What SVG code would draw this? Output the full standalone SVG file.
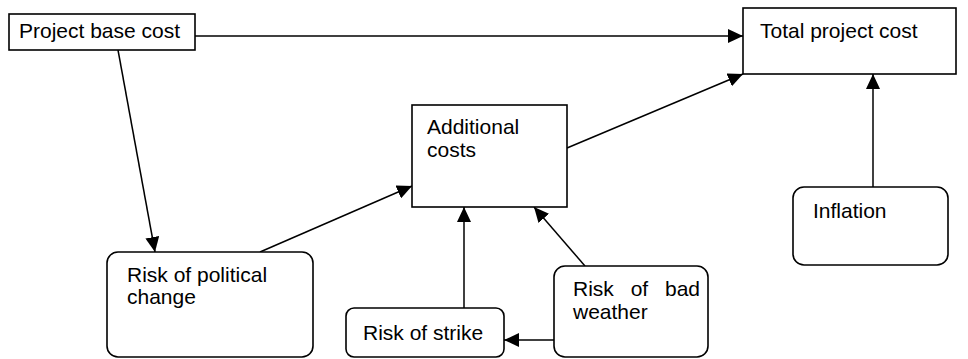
<svg xmlns="http://www.w3.org/2000/svg" width="968" height="359" viewBox="0 0 968 359">
<style>
.box{fill:#fff;stroke:#000;stroke-width:1.6}
.lbl{font-family:"Liberation Sans",Arial,sans-serif;font-size:21px;fill:#000}
.conn line{stroke:#000;stroke-width:1.5;marker-end:url(#ah)}
</style>
<defs>
<marker id="ah" markerUnits="userSpaceOnUse" markerWidth="16" markerHeight="14" refX="15" refY="7" orient="auto">
<path d="M0,0 L15,7 L0,14 z" fill="#000"/>
</marker>
</defs>
<rect width="968" height="359" fill="#fff"/>
<g class="conn" id="connectors">
<line x1="195" y1="36" x2="743" y2="36"/>
<line x1="118" y1="50" x2="155" y2="252"/>
<line x1="260" y1="252" x2="412" y2="186"/>
<line x1="567" y1="148" x2="743" y2="74"/>
<line x1="464" y1="308" x2="464" y2="207"/>
<line x1="585" y1="266" x2="534" y2="207"/>
<line x1="554" y1="340" x2="504" y2="340"/>
<line x1="873" y1="187" x2="873" y2="74"/>
</g>
<g id="project-base-cost">
<rect class="box" x="9" y="14" width="186" height="36"/>
<text class="lbl" x="19" y="38">Project base cost</text>
</g>
<g id="total-project-cost">
<rect class="box" x="743" y="8" width="213" height="66"/>
<text class="lbl" x="760" y="38">Total project cost</text>
</g>
<g id="additional-costs">
<rect class="box" x="412" y="105" width="155" height="102"/>
<text class="lbl" x="427" y="134">Additional</text>
<text class="lbl" x="427" y="157">costs</text>
</g>
<g id="risk-political">
<rect class="box" x="107" y="252" width="206" height="105" rx="11"/>
<text class="lbl" x="127" y="282">Risk of political</text>
<text class="lbl" x="127" y="304">change</text>
</g>
<g id="risk-strike">
<rect class="box" x="346" y="308" width="158" height="49" rx="8"/>
<text class="lbl" x="363" y="340">Risk of strike</text>
</g>
<g id="risk-weather">
<rect class="box" x="554" y="266" width="154" height="91" rx="11"/>
<text class="lbl" x="573" y="296" word-spacing="11">Risk of bad</text>
<text class="lbl" x="573" y="319">weather</text>
</g>
<g id="inflation">
<rect class="box" x="793" y="187" width="155" height="78" rx="11"/>
<text class="lbl" x="813" y="218">Inflation</text>
</g>
</svg>
